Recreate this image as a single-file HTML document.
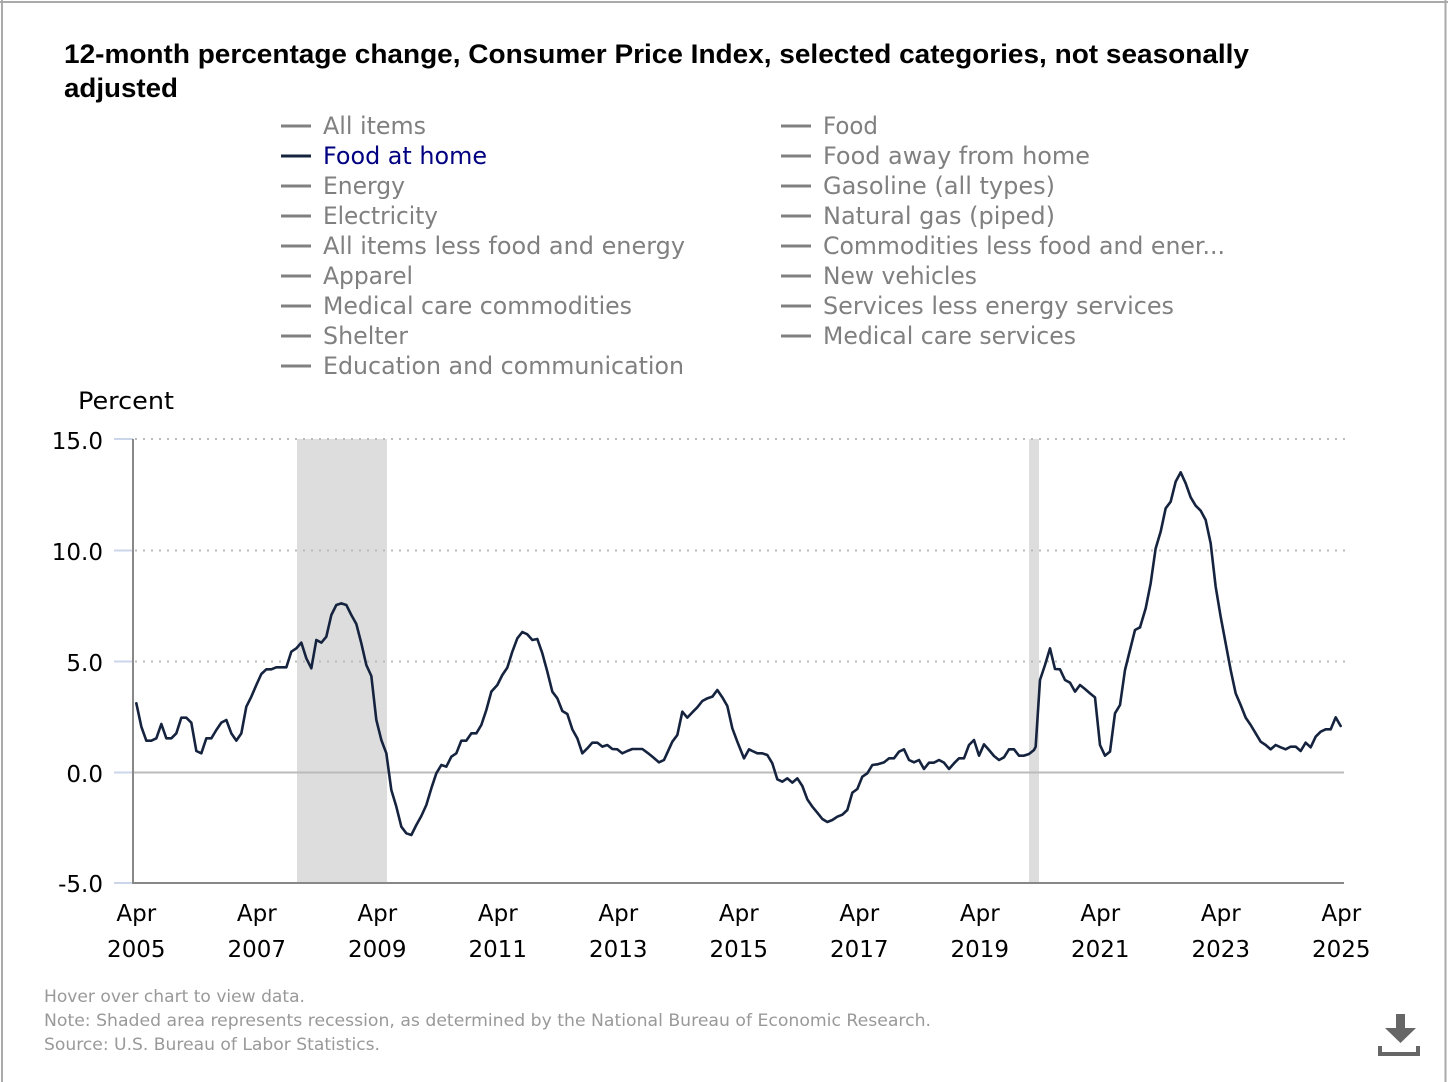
<!DOCTYPE html>
<html>
<head>
<meta charset="utf-8">
<style>
html,body{margin:0;padding:0;background:#fff;}
svg{display:block;}
.lg{font-family:"DejaVu Sans","Liberation Sans",sans-serif;font-size:24px;fill:#808080;}
.ax{font-family:"DejaVu Sans","Liberation Sans",sans-serif;font-size:23px;fill:#000;}
.ft{font-family:"DejaVu Sans","Liberation Sans",sans-serif;font-size:17px;fill:#999;}
.ttl{font-family:"Liberation Sans",Arial,sans-serif;font-size:27px;font-weight:bold;fill:#000;}
.ser{fill:none;stroke:#15233f;stroke-width:2.6;stroke-linejoin:round;stroke-linecap:round;}
</style>
</head>
<body>
<svg width="1448" height="1082" viewBox="0 0 1448 1082" xmlns="http://www.w3.org/2000/svg">
<rect x="0" y="0" width="1448" height="1082" fill="#fff"/>
<!-- frame -->
<line x1="2" y1="0" x2="2" y2="1082" stroke="#aaa" stroke-width="2"/>
<line x1="0" y1="2" x2="1448" y2="2" stroke="#aaa" stroke-width="2"/>
<line x1="1445.5" y1="0" x2="1445.5" y2="1082" stroke="#aaa" stroke-width="2"/>

<!-- title -->
<text class="ttl" x="64" y="63" textLength="1185" lengthAdjust="spacingAndGlyphs">12-month percentage change, Consumer Price Index, selected categories, not seasonally</text>
<text class="ttl" x="64" y="97" textLength="114" lengthAdjust="spacingAndGlyphs">adjusted</text>

<!-- legend column 1 -->
<g stroke="#808080" stroke-width="3">
<line x1="281" y1="126" x2="311" y2="126"/>
<line x1="281" y1="186" x2="311" y2="186"/>
<line x1="281" y1="216" x2="311" y2="216"/>
<line x1="281" y1="246" x2="311" y2="246"/>
<line x1="281" y1="276" x2="311" y2="276"/>
<line x1="281" y1="306" x2="311" y2="306"/>
<line x1="281" y1="336" x2="311" y2="336"/>
<line x1="281" y1="366" x2="311" y2="366"/>
<line x1="781" y1="126" x2="811" y2="126"/>
<line x1="781" y1="156" x2="811" y2="156"/>
<line x1="781" y1="186" x2="811" y2="186"/>
<line x1="781" y1="216" x2="811" y2="216"/>
<line x1="781" y1="246" x2="811" y2="246"/>
<line x1="781" y1="276" x2="811" y2="276"/>
<line x1="781" y1="306" x2="811" y2="306"/>
<line x1="781" y1="336" x2="811" y2="336"/>
</g>
<line x1="281" y1="156" x2="311" y2="156" stroke="#15233f" stroke-width="3"/>

<text class="lg" x="323" y="134" textLength="103" lengthAdjust="spacingAndGlyphs">All items</text>
<text class="lg" x="323" y="164" style="fill:#000080" textLength="164" lengthAdjust="spacingAndGlyphs">Food at home</text>
<text class="lg" x="323" y="194" textLength="82" lengthAdjust="spacingAndGlyphs">Energy</text>
<text class="lg" x="323" y="224" textLength="115" lengthAdjust="spacingAndGlyphs">Electricity</text>
<text class="lg" x="323" y="254" textLength="362" lengthAdjust="spacingAndGlyphs">All items less food and energy</text>
<text class="lg" x="323" y="284" textLength="90" lengthAdjust="spacingAndGlyphs">Apparel</text>
<text class="lg" x="323" y="314" textLength="309" lengthAdjust="spacingAndGlyphs">Medical care commodities</text>
<text class="lg" x="323" y="344" textLength="85" lengthAdjust="spacingAndGlyphs">Shelter</text>
<text class="lg" x="323" y="374" textLength="361" lengthAdjust="spacingAndGlyphs">Education and communication</text>

<text class="lg" x="823" y="134" textLength="55" lengthAdjust="spacingAndGlyphs">Food</text>
<text class="lg" x="823" y="164" textLength="267" lengthAdjust="spacingAndGlyphs">Food away from home</text>
<text class="lg" x="823" y="194" textLength="232" lengthAdjust="spacingAndGlyphs">Gasoline (all types)</text>
<text class="lg" x="823" y="224" textLength="232" lengthAdjust="spacingAndGlyphs">Natural gas (piped)</text>
<text class="lg" x="823" y="254" textLength="402" lengthAdjust="spacingAndGlyphs">Commodities less food and ener...</text>
<text class="lg" x="823" y="284" textLength="154" lengthAdjust="spacingAndGlyphs">New vehicles</text>
<text class="lg" x="823" y="314" textLength="351" lengthAdjust="spacingAndGlyphs">Services less energy services</text>
<text class="lg" x="823" y="344" textLength="253" lengthAdjust="spacingAndGlyphs">Medical care services</text>

<!-- y axis title -->
<text class="lg" x="78" y="409" style="fill:#000" textLength="96" lengthAdjust="spacingAndGlyphs">Percent</text>

<!-- recession shading -->
<rect x="297" y="439" width="90" height="444" fill="#dddddd"/>
<rect x="1029" y="439" width="10" height="444" fill="#dddddd"/>

<!-- grid -->
<g stroke="#bbbbbb" stroke-width="2" stroke-dasharray="2,6">
<line x1="135" y1="439" x2="1345" y2="439"/>
<line x1="135" y1="550.5" x2="1345" y2="550.5"/>
<line x1="135" y1="661.5" x2="1345" y2="661.5"/>
</g>
<line x1="133" y1="772.5" x2="1344" y2="772.5" stroke="#bbbbbb" stroke-width="2"/>

<!-- y ticks -->
<g stroke="#ccd6eb" stroke-width="2">
<line x1="114" y1="439" x2="133" y2="439"/>
<line x1="114" y1="550.5" x2="133" y2="550.5"/>
<line x1="114" y1="661.5" x2="133" y2="661.5"/>
<line x1="114" y1="772.5" x2="133" y2="772.5"/>
<line x1="114" y1="883" x2="133" y2="883"/>
</g>

<!-- axes -->
<line x1="133" y1="439" x2="133" y2="884" stroke="#888" stroke-width="2"/>
<line x1="132" y1="883" x2="1344" y2="883" stroke="#888" stroke-width="2"/>

<!-- y labels -->
<g class="ax" text-anchor="end">
<text x="103" y="449">15.0</text>
<text x="103" y="560">10.0</text>
<text x="103" y="671">5.0</text>
<text x="103" y="782">0.0</text>
<text x="103" y="892">-5.0</text>
</g>

<!-- x labels -->
<g class="ax" text-anchor="middle">
<text x="136.3" y="921">Apr</text><text x="136.3" y="957">2005</text>
<text x="256.8" y="921">Apr</text><text x="256.8" y="957">2007</text>
<text x="377.3" y="921">Apr</text><text x="377.3" y="957">2009</text>
<text x="497.8" y="921">Apr</text><text x="497.8" y="957">2011</text>
<text x="618.3" y="921">Apr</text><text x="618.3" y="957">2013</text>
<text x="738.8" y="921">Apr</text><text x="738.8" y="957">2015</text>
<text x="859.3" y="921">Apr</text><text x="859.3" y="957">2017</text>
<text x="979.8" y="921">Apr</text><text x="979.8" y="957">2019</text>
<text x="1100.3" y="921">Apr</text><text x="1100.3" y="957">2021</text>
<text x="1220.8" y="921">Apr</text><text x="1220.8" y="957">2023</text>
<text x="1341.3" y="921">Apr</text><text x="1341.3" y="957">2025</text>
</g>

<!-- series -->
<g transform="translate(100,420) scale(0.33333)">
<polyline class="ser" vector-effect="non-scaling-stroke" points="109,850 124,920 139,962 154,962 169,955 184,912 199,955 214,955 229,940 244,893 259,893 274,908 289,993 304,1000 319,955 334,955 349,930 364,908 379,900 394,940 409,962 424,940 439,860 454,830 469,795 484,762 499,748 514,748 529,742 544,742 559,742 574,695 589,685 604,668 619,715 634,745 649,660 664,668 679,650 694,585 709,555 724,550 739,555 754,585 769,612 784,670 799,735 814,768 829,900 844,960 859,1000 874,1110 889,1160 904,1220 919,1240 934,1245 949,1215 964,1188 979,1155 994,1105 1009,1060 1024,1035 1039,1040 1054,1010 1069,1000 1084,962 1099,962 1114,940 1129,940 1144,915 1159,870 1174,815"/>
</g>
<g transform="translate(480,600) scale(0.33333)">
<polyline class="ser" vector-effect="non-scaling-stroke" points="34,275 52,255 67,225 82,203 97,155 112,115 127,96 142,103 157,120 172,117 187,160 202,215 217,275 232,295 247,333 262,342 277,388 292,415 307,460 322,445 337,428 352,428 367,440 382,435 397,447 412,448 427,460 442,453 457,447 472,447 487,447 502,458 517,470 537,487 552,480 562,458 577,425 592,405 607,335 622,353 637,337 652,322 667,303 682,295 697,290 712,270 727,292 742,318 757,385 772,425 792,475 807,448 817,453 832,460 847,460 862,465 877,490 892,538 907,545 922,535 937,548 952,535 967,558 982,598 997,620 1012,638 1027,657 1042,666 1057,660 1072,650 1087,644 1102,630 1117,578 1132,567 1147,530 1162,520 1177,495 1192,493"/>
</g>
<g transform="translate(860,600) scale(0.33333)">
<polyline class="ser" vector-effect="non-scaling-stroke" points="52,493 72,487 87,475 102,475 117,455 132,448 147,480 162,487 177,480 192,507 207,488 222,488 237,480 252,488 267,507 282,490 297,475 312,475 327,435 342,420 357,467 372,433 387,450 402,468 417,480 432,472 447,448 462,448 477,467 492,467 507,462 522,450 527,440 540,240 555,195 570,145 585,207 600,208 615,240 630,248 645,275 660,255 675,267 690,280 705,292 720,435 735,467 750,455 765,340 780,315 795,210 810,150 825,90 840,82"/>
</g>
<g transform="translate(1100,440) scale(0.33333)">
<polyline class="ser" vector-effect="non-scaling-stroke" points="120,562 137,505 152,430 167,325 182,275 197,205 212,185 227,125 242,97 257,130 272,172 287,197 302,212 317,240 332,310 347,440 362,530 377,610 392,690 407,760 422,795 437,833 452,855 467,880 482,905 497,915 512,928 527,915 542,922 557,928 572,920 587,920 602,933 617,908 632,922 647,890 662,875 677,868 692,868 707,832 722,858"/>
</g>

<!-- footer -->
<text class="ft" x="44" y="1002" textLength="261" lengthAdjust="spacingAndGlyphs">Hover over chart to view data.</text>
<text class="ft" x="44" y="1026" textLength="887" lengthAdjust="spacingAndGlyphs">Note: Shaded area represents recession, as determined by the National Bureau of Economic Research.</text>
<text class="ft" x="44" y="1050" textLength="336" lengthAdjust="spacingAndGlyphs">Source: U.S. Bureau of Labor Statistics.</text>

<!-- download icon -->
<g fill="#666">
<rect x="1396" y="1014" width="9" height="15"/>
<polygon points="1385,1028 1416,1028 1400.5,1043"/>
<rect x="1378" y="1046" width="4" height="10"/>
<rect x="1416" y="1046" width="4" height="10"/>
<rect x="1378" y="1052" width="42" height="4"/>
</g>
</svg>
</body>
</html>
